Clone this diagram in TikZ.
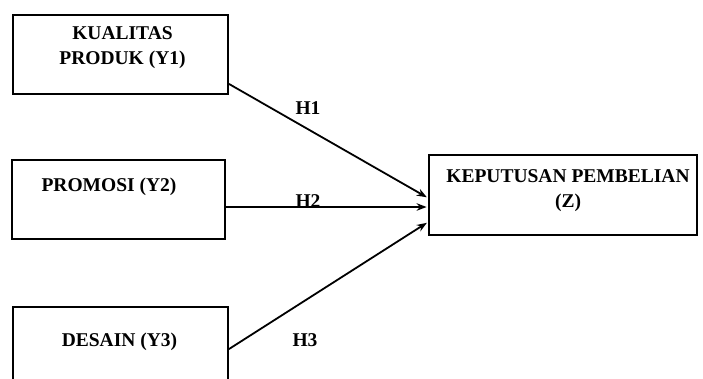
\documentclass[tikz,border=0pt]{standalone}
\usepackage{fontspec}
\setmainfont{Liberation Serif}
\usetikzlibrary{arrows.meta,positioning}
\begin{document}
\begin{tikzpicture}[x=1pt,y=-1pt,
  box/.style={draw,line width=1.8pt,minimum width=215pt,minimum height=79pt,inner sep=0pt},
  lbl/.style={font=\fontsize{19.5}{25}\selectfont\bfseries,inner sep=0pt,align=center},
  arr/.style={line width=1.8pt,-{Stealth[length=10pt,width=7.5pt]},shorten >=1.5pt}]
\useasboundingbox (0,0) rectangle (703,378);
\clip (0,0) rectangle (703,378);
\node[box] (y1) at (120.5,54.5) {};
\node[box,minimum width=213pt] (y2) at (118.5,199.5) {};
\node[box,minimum height=100pt] (y3) at (120.5,357) {};
\node[box,minimum width=268pt,minimum height=80pt] (z) at (563,195) {};
\node[lbl,anchor=north] (y1t) at ([xshift=2pt,yshift=-12.5pt]y1.north) {KUALITAS\\PRODUK (Y1)};
\node[lbl,anchor=base] (y2t) at ([xshift=-9.5pt,yshift=-32pt]y2.north) {PROMOSI (Y2)};
\node[lbl,anchor=base] (y3t) at ([xshift=-1pt,yshift=-40pt]y3.north) {DESAIN (Y3)};
\node[lbl,anchor=north] (zt) at ([xshift=5pt,yshift=-15pt]z.north) {KEPUTUSAN PEMBELIAN\\(Z)};
\node[lbl] (h1) at (308,108.5) {H1};
\node[lbl] (h2) at (308,201) {H2};
\node[lbl] (h3) at (305,340) {H3};
\draw[arr] ([yshift=11pt]y1.south east) -- ([yshift=-3pt]z.west);
\draw[arr] ([yshift=-7.5pt]y2.east) -- ([yshift=-12pt]z.west);
\draw[arr] ([yshift=-43pt]y3.north east) -- ([yshift=-27pt]z.west);
\end{tikzpicture}
\end{document}
